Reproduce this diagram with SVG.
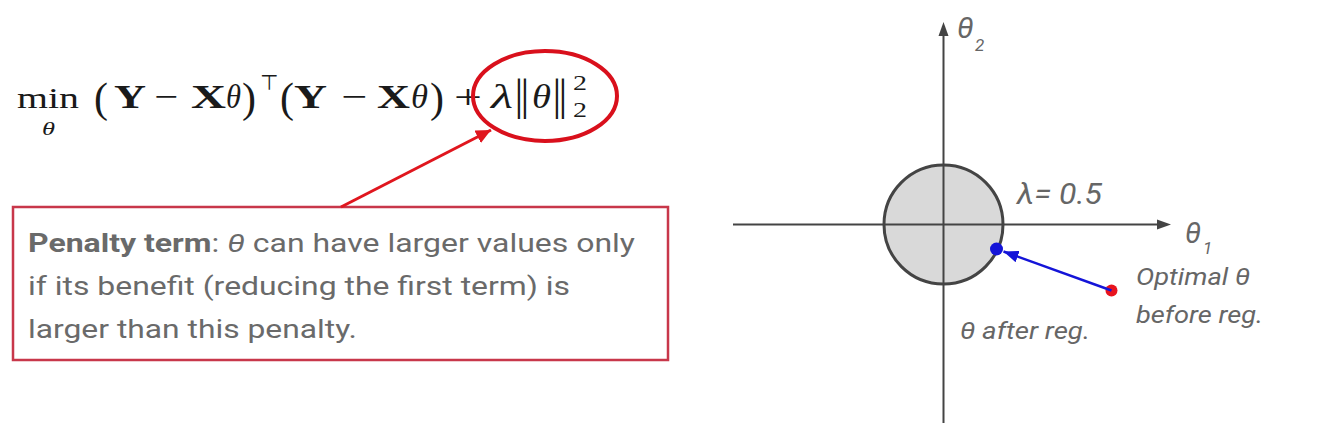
<svg xmlns="http://www.w3.org/2000/svg" width="1332" height="436" viewBox="0 0 1332 436">
<style>
.m{font-family:"Liberation Serif","DejaVu Serif",serif;fill:#1a1a1a}
.b{font-weight:bold}
.i{font-style:italic}
.bx{font-family:Roboto,"Liberation Sans",sans-serif;font-size:26px;fill:#6a6a6a}
.lb{font-family:Roboto,"Liberation Sans",sans-serif;font-style:italic;fill:#666}
.ax{stroke:#444;stroke-width:2;fill:none}
</style>
<defs>
<marker id="ar" markerUnits="userSpaceOnUse" markerWidth="16" markerHeight="14" refX="15" refY="7" orient="auto">
<path d="M0,0 L15,7 L0,14 z" fill="#e0161e"/>
</marker>
<marker id="ab" markerUnits="userSpaceOnUse" markerWidth="16" markerHeight="12" refX="15" refY="6" orient="auto">
<path d="M0,0 L15,6 L0,12 z" fill="#1414d8"/>
</marker>
</defs>
<rect width="1332" height="436" fill="#fff"/>

<g id="formula">
<text class="m" x="17" y="108" font-size="30" textLength="62" lengthAdjust="spacingAndGlyphs">min</text>
<text class="m i" x="42" y="135" font-size="19" textLength="13" lengthAdjust="spacingAndGlyphs">θ</text>
<text class="m" x="94" y="112" font-size="42">(</text>
<text class="m b" x="114" y="108" font-size="34" textLength="32" lengthAdjust="spacingAndGlyphs">Y</text>
<text class="m" x="154" y="108" font-size="34" textLength="24" lengthAdjust="spacingAndGlyphs">−</text>
<text class="m b" x="191" y="108" font-size="34" textLength="35" lengthAdjust="spacingAndGlyphs">X</text>
<text class="m i" x="226" y="108" font-size="34" textLength="15" lengthAdjust="spacingAndGlyphs">θ</text>
<text class="m" x="242" y="112" font-size="42">)</text>
<text x="260" y="90" font-size="21" font-family="DejaVu Sans,sans-serif" fill="#1a1a1a">⊤</text>
<text class="m" x="280" y="112" font-size="42">(</text>
<text class="m b" x="294" y="108" font-size="34" textLength="33" lengthAdjust="spacingAndGlyphs">Y</text>
<text class="m" x="341" y="108" font-size="34" textLength="26" lengthAdjust="spacingAndGlyphs">−</text>
<text class="m b" x="377" y="108" font-size="34" textLength="33" lengthAdjust="spacingAndGlyphs">X</text>
<text class="m i" x="411" y="108" font-size="34" textLength="17" lengthAdjust="spacingAndGlyphs">θ</text>
<text class="m" x="430" y="112" font-size="42">)</text>
<text class="m" x="454" y="108" font-size="34" textLength="28" lengthAdjust="spacingAndGlyphs">+</text>
<text class="m i" x="491" y="108" font-size="34" textLength="22" lengthAdjust="spacingAndGlyphs">λ</text>
<text class="m" x="514.6" y="110" font-size="44" letter-spacing="-3">||</text>
<text class="m i" x="532" y="108" font-size="34" textLength="19" lengthAdjust="spacingAndGlyphs">θ</text>
<text class="m" x="552.6" y="110" font-size="44" letter-spacing="-3">||</text>
<text class="m" x="573" y="90" font-size="22" textLength="14" lengthAdjust="spacingAndGlyphs">2</text>
<text class="m" x="573" y="117" font-size="22" textLength="14" lengthAdjust="spacingAndGlyphs">2</text>
</g>

<g id="highlight">
<ellipse cx="545" cy="96" rx="72" ry="45" fill="none" stroke="#d9101c" stroke-width="4"/>
</g>

<g id="penalty-box">
<rect x="13" y="207" width="655" height="153" fill="#fff" stroke="#c8374a" stroke-width="2.5"/>
<text class="bx" x="28" y="252" textLength="607" lengthAdjust="spacingAndGlyphs"><tspan font-weight="bold">Penalty term</tspan>: <tspan font-style="italic">θ</tspan> can have larger values only</text>
<text class="bx" x="28" y="295" textLength="542" lengthAdjust="spacingAndGlyphs">if its benefit (reducing the first term) is</text>
<text class="bx" x="28" y="338" textLength="329" lengthAdjust="spacingAndGlyphs">larger than this penalty.</text>
</g>

<g id="constraint-region">
<circle cx="943.5" cy="224.5" r="59.5" fill="#d9d9d9" stroke="#444" stroke-width="3"/>
</g>

<g id="axes">
<line class="ax" x1="733" y1="224.5" x2="1158" y2="224.5"/>
<polygon points="1171,224.5 1157,219.5 1157,229.5" fill="#444"/>
<line class="ax" x1="943.5" y1="423" x2="943.5" y2="35"/>
<polygon points="943.5,22 938.5,36 948.5,36" fill="#444"/>
<text class="lb" x="957" y="38" font-size="30">θ</text>
<text class="lb" x="975" y="51" font-size="17">2</text>
<text class="lb" x="1185" y="243" font-size="29">θ</text>
<text class="lb" x="1203" y="254" font-size="17">1</text>
</g>

<g id="lambda-label">
<text class="lb" x="1017" y="204" font-size="29" textLength="85" lengthAdjust="spacingAndGlyphs">λ= 0.5</text>
</g>

<g id="point-before">
<circle cx="1111.5" cy="290.5" r="6" fill="#e8141e"/>
<text class="lb" x="1136" y="285" font-size="23" textLength="114" lengthAdjust="spacingAndGlyphs">Optimal θ</text>
<text class="lb" x="1136" y="323" font-size="23" textLength="127" lengthAdjust="spacingAndGlyphs">before reg.</text>
</g>

<g id="point-after">
<circle cx="996.5" cy="249" r="6.5" fill="#1414d8"/>
<text class="lb" x="960" y="339" font-size="23" textLength="130" lengthAdjust="spacingAndGlyphs">θ after reg.</text>
</g>

<g id="connectors">
<line x1="341" y1="207" x2="491" y2="130" stroke="#e0161e" stroke-width="3" marker-end="url(#ar)"/>
<line x1="1111.5" y1="290.5" x2="1003.5" y2="251.5" stroke="#1414d8" stroke-width="2.5" marker-end="url(#ab)"/>
</g>
</svg>
